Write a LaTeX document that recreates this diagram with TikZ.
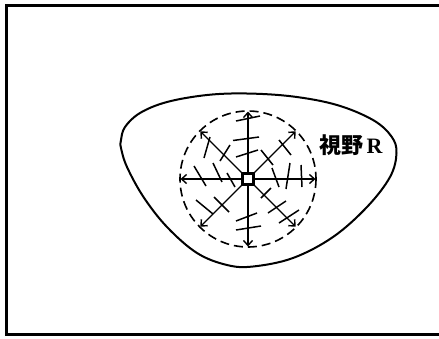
\documentclass[tikz,border=0pt]{standalone}
\usepackage{fontspec}
\newfontfamily\cjk{Noto Sans CJK JP}
\newfontfamily\rfont{Liberation Serif}
\usetikzlibrary{arrows.meta,calc}
\begin{document}
\begin{tikzpicture}[x=1pt,y=-1pt,
  frame/.style={line width=2.6pt},
  blob/.style={line width=2pt},
  fieldcircle/.style={line width=1.6pt, dash pattern=on 9pt off 5pt},
  ray/.style={line width=1.4pt, -{Straight Barb[length=5pt,width=9pt,line width=1.4pt]}},
  tick/.style={line width=1.5pt},
  eye/.style={draw, line width=2.6pt, fill=white, minimum size=11pt, inner sep=0pt},
  labelfont/.style={font=\fontsize{22}{22}\selectfont}]
\useasboundingbox (0,0) rectangle (439,338);
% frame
\coordinate (ftr) at (439,5.5);
\coordinate (ftl) at (6.5,5.5);
\coordinate (fbl) at (6.5,334.5);
\coordinate (fbr) at (439,334.5);
\draw[frame] (ftr) -- (ftl) -- (fbl) -- (fbr);
% visual field outline
\draw[blob] plot[smooth cycle, tension=0.6] coordinates {
 (121,140) (125,127) (140,113) (167,102) (207,95) (247,93.5) (293,96.5)
 (337,105) (373,120) (391.5,136.5) (396.5,153) (390,177) (367,207)
 (333,237) (293,258) (253,266.5) (227,265) (197,253) (167,227)
 (143.5,197) (127,167) (121,148)};
% centre and field
\coordinate (ctr) at (248,179);
\draw[fieldcircle] (ctr) circle (68);
\foreach \a/\n in {0/e0,45/e1,90/e2,135/e3,180/e4,225/e5,270/e6,315/e7}{
  \coordinate (\n) at ($(ctr)+(\a:67.5)$);
}
\foreach \n in {e0,e1,e2,e3,e4,e5,e6,e7}{
  \draw[ray] (ctr) -- (\n);
}
% ticks
\foreach \p/\q in {
 {(236,121)}/{(260,116)}, {(233,140.5)}/{(259,137)}, {(236,157)}/{(258,150)},
 {(236,230)}/{(261,226)}, {(236,221)}/{(257,213)},
 {(194,166)}/{(206,186)}, {(213,163)}/{(222,182)}, {(227,173)}/{(235,187)},
 {(272,168)}/{(279,187)}, {(290,163)}/{(286,189)}, {(301,165)}/{(302,187)},
 {(210,137)}/{(204,158)}, {(230,145)}/{(220,161)},
 {(261,150)}/{(273,165)}, {(279,140)}/{(291,155)},
 {(196,200)}/{(213,214)}, {(214,197)}/{(229,212)},
 {(261,198)}/{(271,188)}, {(268,213)}/{(286,201)}, {(279,223)}/{(299,210)}}{
  \draw[tick] \p -- \q;
}
\node[eye] (eye) at (ctr) {};
% label
\node[inner sep=0pt, anchor=center, labelfont] (lab) at (351,145)
  {{\cjk\bfseries 視野}\hspace{3pt}{\rfont\bfseries R}};
\end{tikzpicture}
\end{document}
